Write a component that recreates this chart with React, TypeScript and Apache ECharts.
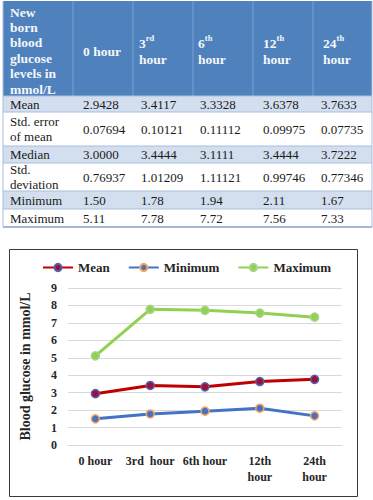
import React, { useEffect, useRef } from "react";
import * as echarts from "echarts";

// Sampling times (columns of the table, categories of the chart)
const categories = ["0 hour", "3rd hour", "6th hour", "12th hour", "24th hour"];
const tickLabels = ["0 hour", "3rd  hour", "6th hour", "12th\nhour", "24th\nhour"];
const hourNumbers = ["3", "6", "12", "24"];
const hourSuffixes = ["rd", "th", "th", "th"];

// Descriptive statistics, mmol/L
const meanValues = [2.9428, 3.4117, 3.3328, 3.6378, 3.7633];
const stdErrorValues = [0.07694, 0.10121, 0.11112, 0.09975, 0.07735];
const medianValues = [3.0, 3.4444, 3.1111, 3.4444, 3.7222];
const stdDevValues = [0.76937, 1.01209, 1.11121, 0.99746, 0.77346];
const minimumValues = [1.5, 1.78, 1.94, 2.11, 1.67];
const maximumValues = [5.11, 7.78, 7.72, 7.56, 7.33];

const headerLines = ["New", "born", "blood", "glucose", "levels in", "mmol/L"];

const SERIF = "'Liberation Serif', 'Times New Roman', 'DejaVu Serif', serif";

function text(x: number, y: number, str: string, size: number, bold: boolean, fill: string) {
  return {
    type: "text",
    x,
    y,
    silent: true,
    style: {
      text: str,
      fill,
      fontFamily: SERIF,
      fontSize: size,
      fontWeight: bold ? "bold" : "normal",
      align: "left",
      verticalAlign: "middle",
    },
  };
}

function buildTable() {
  const els: any[] = [];
  const left = 3;
  const right = 372;
  const w = right - left;
  const colLines = [73, 133, 193, 253, 313];
  const valueX = [83, 141, 200, 263, 321];
  const headerX = [139, 198, 263, 323];

  // header block
  els.push({ type: "rect", shape: { x: left, y: 1, width: w, height: 95 }, style: { fill: "#4F81BD" } });
  colLines.forEach((cx) =>
    els.push({ type: "line", shape: { x1: cx, y1: 1, x2: cx, y2: 96 }, style: { stroke: "#7FA1CF", lineWidth: 1 } })
  );
  headerLines.forEach((t, i) => els.push(text(10, 12 + i * 15.4, t, 13.5, true, "#F4F7FB")));
  els.push(text(83, 51, "0 hour", 13.5, true, "#F4F7FB"));
  hourNumbers.forEach((n, i) => {
    const x = headerX[i];
    els.push(text(x, 43, n, 13.5, true, "#F4F7FB"));
    els.push(text(x + n.length * 6.8, 38, hourSuffixes[i], 8.5, true, "#F4F7FB"));
    els.push(text(x, 59, "hour", 13.5, true, "#F4F7FB"));
  });

  // body rows
  const rows = [
    { label: ["Mean"], values: meanValues.map((v) => v.toFixed(4)), y0: 96, y1: 112, shade: true },
    { label: ["Std. error", "of mean"], values: stdErrorValues.map((v) => v.toFixed(5)), y0: 112, y1: 146, shade: false },
    { label: ["Median"], values: medianValues.map((v) => v.toFixed(4)), y0: 146, y1: 163, shade: true },
    { label: ["Std.", "deviation"], values: stdDevValues.map((v) => v.toFixed(5)), y0: 163, y1: 191, shade: false },
    { label: ["Minimum"], values: minimumValues.map((v) => v.toFixed(2)), y0: 191, y1: 209, shade: true },
    { label: ["Maximum"], values: maximumValues.map((v) => v.toFixed(2)), y0: 209, y1: 227, shade: false },
  ];
  rows.forEach((r) => {
    if (r.shade) {
      els.push({ type: "rect", shape: { x: left, y: r.y0, width: w, height: r.y1 - r.y0 }, style: { fill: "#D3DFEE" } });
    }
    els.push({ type: "line", shape: { x1: left, y1: r.y0, x2: right, y2: r.y0 }, style: { stroke: "#A7BFDE", lineWidth: 1 } });
    const cy = (r.y0 + r.y1) / 2;
    if (r.label.length === 1) {
      els.push(text(10, cy, r.label[0], 13, false, "#1A1A1A"));
    } else {
      els.push(text(10, cy - 7.5, r.label[0], 13, false, "#1A1A1A"));
      els.push(text(10, cy + 7.5, r.label[1], 13, false, "#1A1A1A"));
    }
    r.values.forEach((v, i) => els.push(text(valueX[i], cy, v, 13, false, "#1A1A1A")));
  });
  els.push({ type: "line", shape: { x1: left, y1: 227, x2: right, y2: 227 }, style: { stroke: "#7FA1CF", lineWidth: 1.5 } });
  els.push({ type: "line", shape: { x1: left, y1: 1, x2: left, y2: 227 }, style: { stroke: "#A7BFDE", lineWidth: 1 } });
  els.push({ type: "line", shape: { x1: right, y1: 1, x2: right, y2: 227 }, style: { stroke: "#A7BFDE", lineWidth: 1 } });

  // chart frame
  els.push({
    type: "rect",
    z: -1,
    shape: { x: 9.5, y: 249.5, width: 348, height: 247 },
    style: { fill: "none", stroke: "#3A3A3A", lineWidth: 1 },
  });
  return els;
}

function lineSeries(name: string, data: number[], line: string, fill: string, border: string) {
  return {
    name,
    type: "line",
    data,
    symbol: "circle",
    symbolSize: 8,
    lineStyle: { color: line, width: 3 },
    itemStyle: { color: fill, borderColor: border, borderWidth: 1.5 },
  };
}

export default function App() {
  const ref = useRef<HTMLDivElement>(null);

  useEffect(() => {
    if (!ref.current) return;
    const chart = echarts.init(ref.current, undefined, { renderer: "svg" });
    const labelFont = { fontFamily: SERIF, fontWeight: "bold" as const, fontSize: 12, color: "#262626" };
    chart.setOption({
      animation: false,
      backgroundColor: "#FFFFFF",
      graphic: buildTable(),
      legend: {
        left: 42,
        top: 261,
        padding: 0,
        itemWidth: 30,
        itemHeight: 9,
        itemGap: 18,
        textStyle: { fontFamily: SERIF, fontWeight: "bold", fontSize: 13, color: "#262626" },
        data: ["Mean", "Minimum", "Maximum"],
      },
      grid: { left: 68, right: 31, top: 288, bottom: 55 },
      xAxis: {
        type: "category",
        data: categories,
        axisTick: { show: false },
        axisLine: { lineStyle: { color: "#D9D9D9" } },
        axisLabel: {
          ...labelFont,
          interval: 0,
          margin: 8,
          lineHeight: 16,
          formatter: (_v: string, i: number) => tickLabels[i],
        },
      },
      yAxis: {
        type: "value",
        min: 0,
        max: 9,
        interval: 1,
        name: "Blood glucose in mmol/L",
        nameLocation: "middle",
        nameGap: 36,
        nameTextStyle: { fontFamily: SERIF, fontWeight: "bold", fontSize: 14, color: "#262626" },
        axisLine: { show: false },
        axisTick: { show: false },
        axisLabel: { ...labelFont, margin: 11 },
        splitLine: { lineStyle: { color: "#D9D9D9" } },
      },
      series: [
        lineSeries("Mean", meanValues, "#C00000", "#9E1035", "#5560B0"),
        lineSeries("Minimum", minimumValues, "#4472C4", "#4472C4", "#F4A460"),
        lineSeries("Maximum", maximumValues, "#92D050", "#92D050", "#A9D18E"),
      ],
    });
    return () => chart.dispose();
  }, []);

  return (
    <div
      ref={ref}
      style={{ position: "fixed", left: 0, top: 0, width: 373, height: 500, background: "#FFFFFF" }}
    />
  );
}
